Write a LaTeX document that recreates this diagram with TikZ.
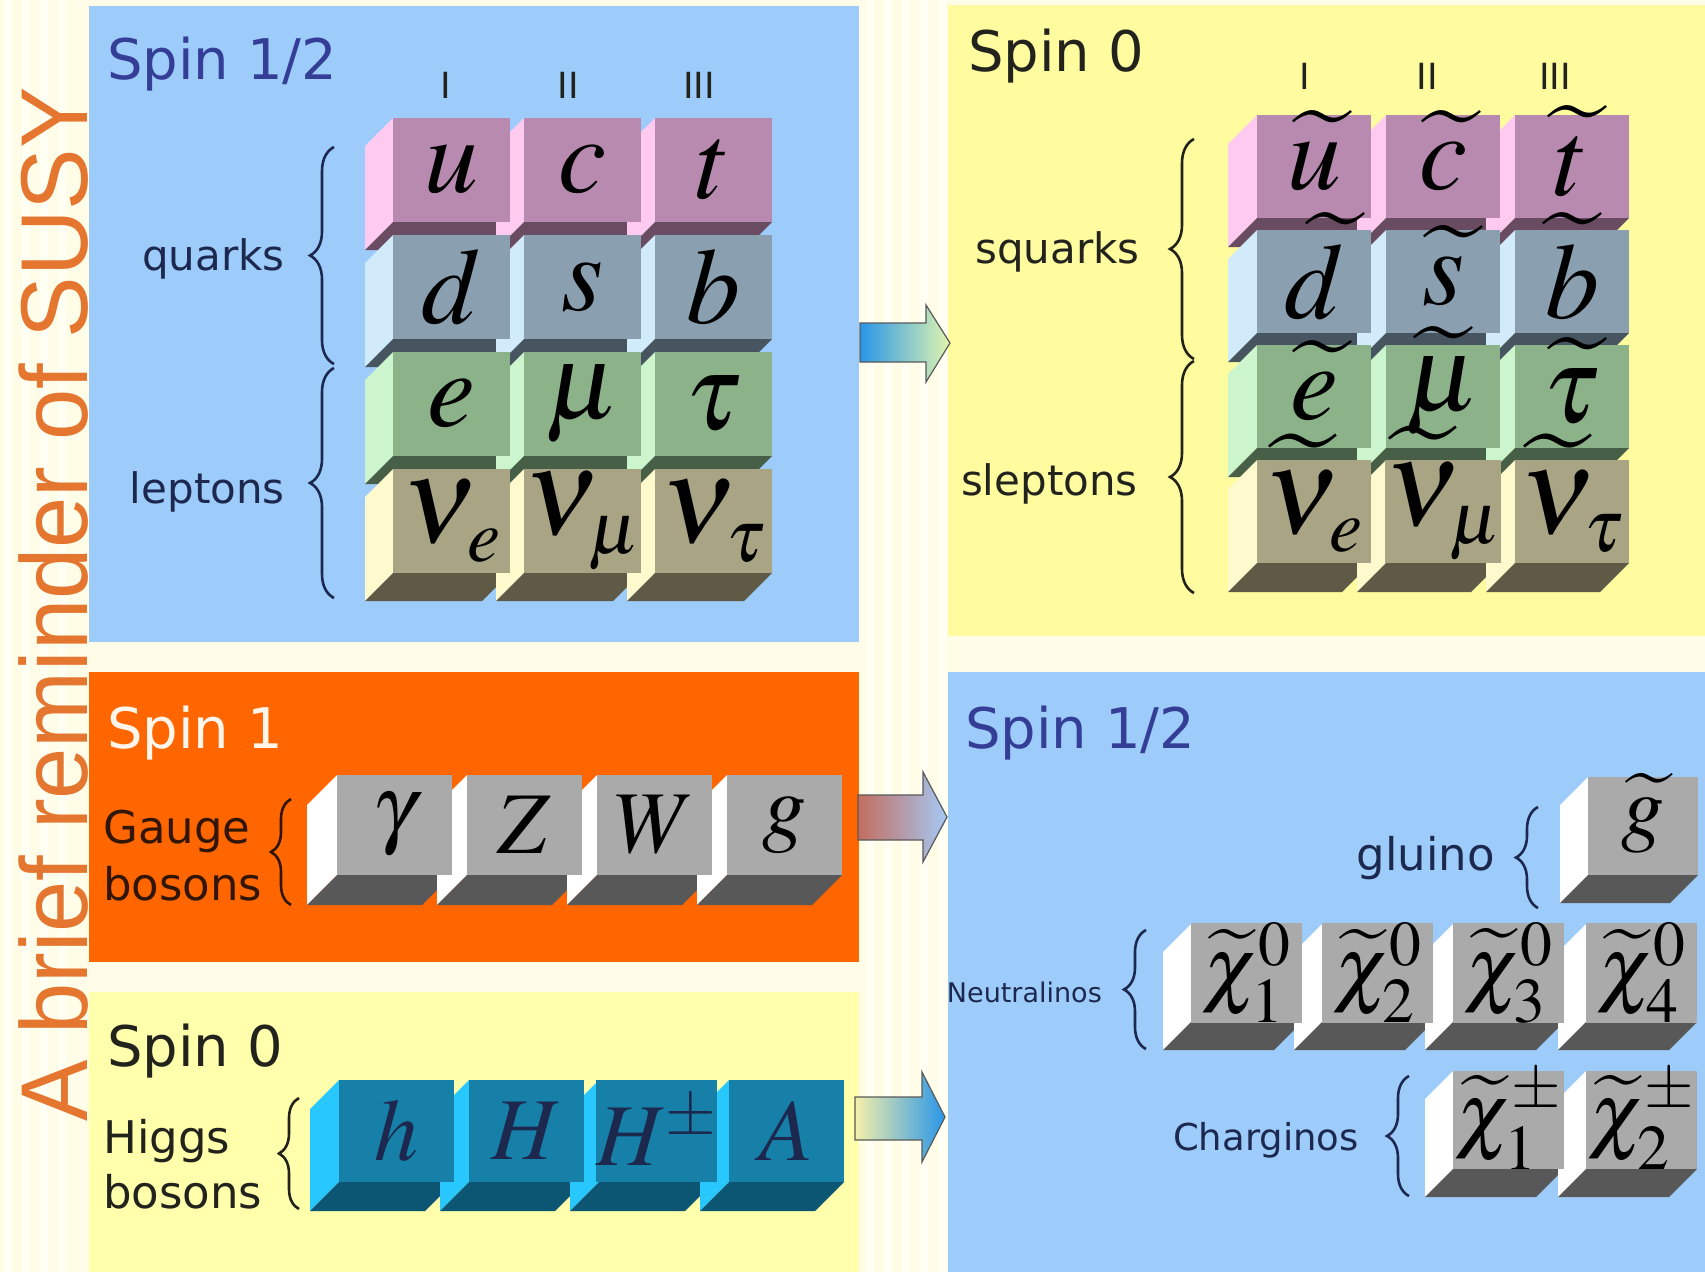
\documentclass[tikz,border=0pt]{standalone}
\usepackage{mathptmx}
\usepackage[no-math]{fontspec}
\newfontfamily\labfont{DejaVu Sans}
\newfontfamily\titlefont{Liberation Sans}[FakeStretch=0.97]
\usetikzlibrary{decorations.pathreplacing}
\pgfdeclarelayer{panels}
\pgfdeclarelayer{faces}
\pgfsetlayers{panels,faces,main}

\definecolor{cream}{RGB}{255,253,232}
\definecolor{creamw}{RGB}{255,255,244}
\definecolor{pblue}{RGB}{158,204,250}
\definecolor{pyellow}{RGB}{255,252,160}
\definecolor{pyellowB}{RGB}{255,255,172}
\definecolor{porange}{RGB}{255,102,0}
\definecolor{spinblue}{RGB}{52,62,150}
\definecolor{navy}{RGB}{28,40,78}
\definecolor{titleor}{RGB}{228,118,48}
\definecolor{darktxt}{RGB}{35,35,30}
\definecolor{brtxt}{RGB}{50,22,5}
% cube colour sets: F front, S side, B bottom
\definecolor{pkF}{RGB}{185,138,176}\definecolor{pkS}{RGB}{255,202,240}\definecolor{pkB}{RGB}{105,76,98}
\definecolor{slF}{RGB}{138,160,176}\definecolor{slS}{RGB}{210,235,250}\definecolor{slB}{RGB}{70,85,95}
\definecolor{grF}{RGB}{140,178,138}\definecolor{grS}{RGB}{205,245,205}\definecolor{grB}{RGB}{70,95,70}
\definecolor{khF}{RGB}{168,164,132}\definecolor{khS}{RGB}{255,250,205}\definecolor{khB}{RGB}{95,90,70}
\definecolor{gyF}{RGB}{170,170,170}\definecolor{gyS}{RGB}{255,255,255}\definecolor{gyB}{RGB}{88,88,88}
\definecolor{tqF}{RGB}{22,128,168}\definecolor{tqS}{RGB}{40,200,255}\definecolor{tqB}{RGB}{12,85,115}
\definecolor{arrblue}{RGB}{40,150,232}
\definecolor{arrpale}{RGB}{225,245,175}
\definecolor{arrbrown}{RGB}{195,110,95}
\definecolor{arrlblue}{RGB}{165,200,245}
\definecolor{arryel}{RGB}{245,240,170}

\newcommand\fsz[1]{\fontsize{#1}{#1}\selectfont}
\newcommand\sptl[2]{\setbox0\hbox{$#1#2$}\raisebox{0pt}[\ht0][\dp0]{$\widetilde{#1}#2$}}
% #1 name, #2 x, #3 y (down), #4 w, #5 h, #6 depth, #7 colour set, #8 label
\newcommand\cube[8]{%
  \begin{pgfonlayer}{faces}
  \fill[#7S] (#2,-#3) -- ++(-#6,-#6) -- ++(0,-#5) -- ++(#6,#6) -- cycle;
  \fill[#7B] (#2,-#3-#5) -- ++(-#6,-#6) -- ++(#4,0) -- ++(#6,#6) -- cycle;
  \end{pgfonlayer}
  \node[cubeface, fill=#7F, minimum width=#4pt, minimum height=#5pt] (#1) at (#2+#4/2,-#3-#5/2) {#8};
}

\tikzset{
  cubeface/.style={inner sep=0pt, outer sep=0pt, text=black},
  cbrace/.style={decorate, decoration={brace, amplitude=#1}, line width=2.6pt},
  spinlab/.style={font=\labfont\fsz{56}, anchor=base west, inner sep=0pt},
  numlab/.style={font=\labfont\fsz{36}, anchor=base, inner sep=0pt, text=darktxt},
  grplab/.style={font=\labfont\fsz{42}, anchor=base east, inner sep=0pt},
  arrowshape/.style={draw=black!65, line width=1.2pt},
}

\begin{document}
\begin{tikzpicture}[x=1pt,y=1pt]
\useasboundingbox (0,0) rectangle (1705,-1272);
\begin{pgfonlayer}{panels}
\fill[cream] (0,0) rectangle (1705,-1272);
\foreach \sx in {4,22,40,58,866,884,902,920,938}{
  \fill[creamw] (\sx,0) rectangle (\sx+8,-1272);
}
\fill[pblue] (89,-6) rectangle (859,-642);
\fill[pyellow] (948,-5) rectangle (1705,-636);
\fill[porange] (89,-672) rectangle (859,-962);
\fill[pyellowB] (89,-992) rectangle (859,-1272);
\fill[pblue] (948,-672) rectangle (1705,-1272);
\end{pgfonlayer}

% title
\node[rotate=90, anchor=base west, inner sep=0pt, text=titleor, font=\titlefont\fsz{95}] (title) at (87,-1122) {A brief reminder of SUSY};

% ---------- top left : Spin 1/2 fermions
\node[spinlab, text=spinblue] (tlspin) at (107,-79) {Spin 1/2};
\node[numlab] (tlI) at (446,-98) {I};
\node[numlab] (tlII) at (568,-98) {II};
\node[numlab] (tlIII) at (699,-98) {III};
\node[grplab, text=navy] (quarks) at (285,-270) {quarks};
\node[grplab, text=navy] (leptons) at (285,-503) {leptons};
\draw[cbrace=24pt, navy] (334,-364) -- (334,-147);
\draw[cbrace=24pt, navy] (334,-598) -- (334,-368);
\begin{scope}[cubeface/.append style={font=\fsz{108}}]
\cube{u}{393}{118}{117}{104}{28}{pk}{$u$}
\cube{c}{524}{118}{117}{104}{28}{pk}{$c$}
\cube{t}{655}{118}{117}{104}{28}{pk}{$t$}
\cube{d}{393}{235}{117}{104}{28}{sl}{$d$}
\cube{s}{524}{235}{117}{104}{28}{sl}{$s$}
\cube{b}{655}{235}{117}{104}{28}{sl}{$b$}
\cube{e}{393}{352}{117}{104}{28}{gr}{$e$}
\cube{mu}{524}{352}{117}{104}{28}{gr}{$\mu$}
\cube{tau}{655}{352}{117}{104}{28}{gr}{$\tau$}
\end{scope}
\begin{scope}[cubeface/.append style={font=\fsz{124}}]
\cube{ne}{393}{469}{117}{104}{28}{kh}{$\nu_{\scriptscriptstyle e}$}
\cube{nm}{524}{469}{117}{104}{28}{kh}{$\nu_{\scriptscriptstyle\mu}$}
\cube{nt}{655}{469}{117}{104}{28}{kh}{$\nu_{\scriptscriptstyle\tau}$}
\end{scope}

% ---------- top right : Spin 0 sfermions
\node[spinlab, text=darktxt] (trspin) at (968,-71) {Spin 0};
\node[numlab] (trI) at (1305,-89) {I};
\node[numlab] (trII) at (1427,-89) {II};
\node[numlab] (trIII) at (1555,-89) {III};
\node[grplab, text=darktxt] (squarks) at (1140,-263) {squarks};
\node[grplab, text=darktxt] (sleptons) at (1138,-495) {sleptons};
\draw[cbrace=24pt, darktxt] (1194,-359) -- (1194,-139);
\draw[cbrace=24pt, darktxt] (1194,-593) -- (1194,-361);
\begin{scope}[cubeface/.append style={font=\fsz{108}}]
\cube{su}{1257}{115}{114}{103}{29}{pk}{\sptl{u}{}}
\cube{sc}{1386}{115}{114}{103}{29}{pk}{\sptl{c}{}}
\cube{st}{1515}{115}{114}{103}{29}{pk}{\sptl{t}{}}
\cube{sd}{1257}{230}{114}{103}{29}{sl}{\sptl{d}{}}
\cube{ss}{1386}{230}{114}{103}{29}{sl}{\sptl{s}{}}
\cube{sb}{1515}{230}{114}{103}{29}{sl}{\sptl{b}{}}
\cube{se}{1257}{345}{114}{103}{29}{gr}{\sptl{e}{}}
\cube{smu}{1386}{345}{114}{103}{29}{gr}{\sptl{\mu}{}}
\cube{stau}{1515}{345}{114}{103}{29}{gr}{\sptl{\tau}{}}
\end{scope}
\begin{scope}[cubeface/.append style={font=\fsz{124}}]
\cube{sne}{1257}{460}{114}{103}{29}{kh}{\sptl{\nu}{_{\scriptscriptstyle e}}}
\cube{snm}{1386}{460}{114}{103}{29}{kh}{\sptl{\nu}{_{\scriptscriptstyle\mu}}}
\cube{snt}{1515}{460}{114}{103}{29}{kh}{\sptl{\nu}{_{\scriptscriptstyle\tau}}}
\end{scope}

% ---------- Spin 1 gauge bosons
\node[spinlab, text=white!92!orange] (s1spin) at (107,-748) {Spin 1};
\node[font=\labfont\fsz{45}, anchor=base west, inner sep=0pt, text=brtxt] (gauge) at (103,-843) {Gauge};
\node[font=\labfont\fsz{45}, anchor=base west, inner sep=0pt, text=brtxt] (gbosons) at (103,-900) {bosons};
\draw[cbrace=20pt, brtxt] (291,-905) -- (291,-799);
\begin{scope}[cubeface/.append style={font=\fsz{88}}]
\cube{gam}{337}{775}{115}{100}{30}{gy}{$\gamma$}
\cube{Z}{467}{775}{115}{100}{30}{gy}{$Z$}
\cube{W}{597}{775}{115}{100}{30}{gy}{$W$}
\cube{g}{727}{775}{115}{100}{30}{gy}{$g$}
\end{scope}

% ---------- Spin 0 Higgs bosons
\node[spinlab, text=darktxt] (h0spin) at (107,-1066) {Spin 0};
\node[font=\labfont\fsz{45}, anchor=base west, inner sep=0pt, text=darktxt] (higgs) at (103,-1153) {Higgs};
\node[font=\labfont\fsz{45}, anchor=base west, inner sep=0pt, text=darktxt] (hbosons) at (103,-1208) {bosons};
\draw[cbrace=20pt, darktxt] (299,-1209) -- (299,-1098);
\begin{scope}[cubeface/.append style={font=\fsz{88}, text=navy}]
\cube{h}{339}{1080}{115}{102}{29}{tq}{$h$}
\cube{H}{469}{1080}{115}{102}{29}{tq}{$H$}
\cube{Hpm}{599}{1080}{115}{102}{29}{tq}{$H^{\pm}$}
\cube{A}{729}{1080}{115}{102}{29}{tq}{$A$}
\end{scope}

% ---------- Spin 1/2 gauginos
\node[spinlab, text=spinblue] (brspin) at (965,-748) {Spin 1/2};
\node[font=\labfont\fsz{45}, anchor=base east, inner sep=0pt, text=navy] (gluino) at (1495,-870) {gluino};
\draw[cbrace=22pt, navy] (1538,-908) -- (1538,-807);
\node[font=\labfont\fsz{27}, anchor=base east, inner sep=0pt, text=navy] (neutralinos) at (1102,-1002) {Neutralinos};
\draw[cbrace=22pt, navy] (1146,-1049) -- (1146,-930);
\node[font=\labfont\fsz{37}, anchor=base east, inner sep=0pt, text=navy] (charginos) at (1359,-1150) {Charginos};
\draw[cbrace=22pt, navy] (1409,-1196) -- (1409,-1076);
\begin{scope}[cubeface/.append style={font=\fsz{86}}]
\cube{gl}{1588}{777}{110}{98}{28}{gy}{\sptl{g}{}}
\cube{n1}{1191}{924}{111}{98}{28}{gy}{\sptl{\chi}{^0_1}}
\cube{n2}{1322}{924}{111}{98}{28}{gy}{\sptl{\chi}{^0_2}}
\cube{n3}{1453}{924}{111}{98}{28}{gy}{\sptl{\chi}{^0_3}}
\cube{n4}{1586}{924}{111}{98}{28}{gy}{\sptl{\chi}{^0_4}}
\cube{c1}{1453}{1071}{111}{98}{28}{gy}{\sptl{\chi}{^{\pm}_1}}
\cube{c2}{1586}{1071}{111}{98}{28}{gy}{\sptl{\chi}{^{\pm}_2}}
\end{scope}

% ---------- block arrows
\path[arrowshape, left color=arrblue, right color=arrpale]
  (860,-323) -- (926,-323) -- (926,-305) -- (950,-343) -- (926,-382) -- (926,-362) -- (860,-362) -- cycle;
\path[arrowshape, left color=arrbrown, right color=arrlblue]
  (858,-795) -- (923,-795) -- (923,-772) -- (947,-817) -- (923,-862) -- (923,-840) -- (858,-840) -- cycle;
\path[arrowshape, left color=arryel, right color=arrblue]
  (855,-1097) -- (922,-1097) -- (922,-1072) -- (945,-1117) -- (922,-1162) -- (922,-1140) -- (855,-1140) -- cycle;
\end{tikzpicture}
\end{document}
